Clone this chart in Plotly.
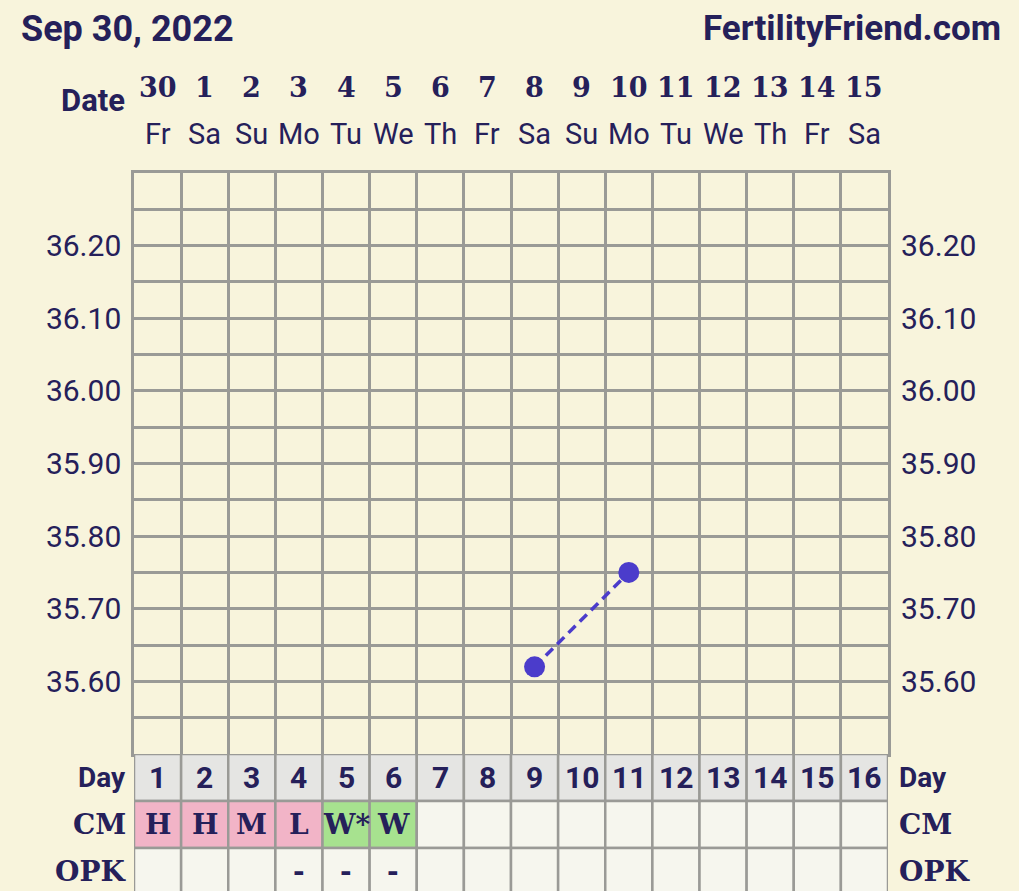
import plotly.graph_objects as go

# ---------------- data ----------------
date_nums = ["30", "1", "2", "3", "4", "5", "6", "7", "8", "9", "10", "11", "12", "13", "14", "15"]
weekdays = ["Fr", "Sa", "Su", "Mo", "Tu", "We", "Th", "Fr", "Sa", "Su", "Mo", "Tu", "We", "Th", "Fr", "Sa"]
cycle_days = list(range(1, 17))
temp_days = [9, 11]
temps = [35.62, 35.75]
temp_ticks = [35.60, 35.70, 35.80, 35.90, 36.00, 36.10, 36.20]
cm_values = ["H", "H", "M", "L", "W*", "W", "", "", "", "", "", "", "", "", "", ""]
opk_values = ["", "", "", "-", "-", "-", "", "", "", "", "", "", "", "", "", ""]
row_labels = ["Day", "CM", "OPK"]

# ---------------- style ----------------
BG = "#f8f4dc"
INK = "#25205a"
GRID = "#9a9a96"
PT = "#4b3ccb"
DAYBG = "#e5e5e3"
EMPTY = "#f6f6ee"
PINK = "#f2b4c7"
GREEN = "#a7e28f"
SANS = "Roboto"
SLAB = "DejaVu Serif"

W, H = 1019, 891
ML, MR, MT, MB = 134, 131, 173, 0
PW, PH = W - ML - MR, H - MT - MB
TABLE_PX = 137


def px_x(p):
    return (p - ML) / PW


def px_y(p):
    return (H - MB - p) / PH


fig = go.Figure()

fig.add_trace(go.Scatter(
    x=temp_days, y=temps, mode="lines+markers",
    line=dict(color=PT, width=3.5, dash="10px,6px"),
    marker=dict(color=PT, size=21),
    xaxis="x", yaxis="y", showlegend=False, hoverinfo="skip"))

# right-side axis duplicate
fig.add_trace(go.Scatter(x=temp_days, y=temps, mode="markers", marker=dict(opacity=0),
                         xaxis="x", yaxis="y3", showlegend=False, hoverinfo="skip"))

shapes = []
annotations = []

# table cells
for i, d in enumerate(cycle_days):
    x = d
    shapes.append(dict(type="rect", xref="x", yref="y2", x0=x - 0.5, x1=x + 0.5, y0=-0.5, y1=0.5,
                       fillcolor=DAYBG, line=dict(color=GRID, width=2.5), layer="above"))
    annotations.append(dict(x=x, y=0, xref="x", yref="y2", text=str(d), showarrow=False,
                            yanchor="middle",
                            font=dict(family=SANS, size=30, color=INK, weight="bold")))
    cm = cm_values[i]
    fill = EMPTY
    if cm in ("H", "M", "L"):
        fill = PINK
    elif cm.startswith("W"):
        fill = GREEN
    shapes.append(dict(type="rect", xref="x", yref="y2", x0=x - 0.5, x1=x + 0.5, y0=0.5, y1=1.5,
                       fillcolor=fill, line=dict(color=GRID, width=2.5), layer="above"))
    if cm:
        annotations.append(dict(x=x, y=1, xref="x", yref="y2", text=cm, showarrow=False,
                                yanchor="middle",
                                font=dict(family=SLAB, size=28, color=INK, weight="bold")))
    shapes.append(dict(type="rect", xref="x", yref="y2", x0=x - 0.5, x1=x + 0.5, y0=1.5, y1=2.5,
                       fillcolor=EMPTY, line=dict(color=GRID, width=2.5), layer="above"))
    if opk_values[i]:
        annotations.append(dict(x=x, y=2, xref="x", yref="y2", text=opk_values[i], showarrow=False,
                                yanchor="middle",
                                font=dict(family=SLAB, size=28, color=INK, weight="bold")))

# row labels left/right
for r, lab in enumerate(row_labels):
    fam = SANS if lab == "Day" else SLAB
    annotations.append(dict(x=px_x(128), y=r, xref="paper", yref="y2", text=lab, showarrow=False,
                            xanchor="right", yanchor="middle",
                            font=dict(family=fam, size=28, color=INK, weight="bold")))
    annotations.append(dict(x=px_x(897), y=r, xref="paper", yref="y2", text=lab, showarrow=False,
                            xanchor="left", yanchor="middle",
                            font=dict(family=fam, size=28, color=INK, weight="bold")))

# top date labels
for i, d in enumerate(cycle_days):
    annotations.append(dict(x=d, y=px_y(87), xref="x", yref="paper", text=date_nums[i], showarrow=False,
                            yanchor="middle",
                            font=dict(family=SLAB, size=27, color=INK, weight="bold")))
    annotations.append(dict(x=d, y=px_y(134), xref="x", yref="paper", text=weekdays[i], showarrow=False,
                            yanchor="middle",
                            font=dict(family=SANS, size=29, color=INK)))

annotations.append(dict(x=px_x(127), y=px_y(101), xref="paper", yref="paper", text="Date", showarrow=False,
                        xanchor="right", yanchor="middle",
                        font=dict(family=SANS, size=31, color=INK, weight="bold")))
annotations.append(dict(x=px_x(19), y=px_y(29), xref="paper", yref="paper", text="Sep 30, 2022",
                        showarrow=False, xanchor="left", yanchor="middle",
                        font=dict(family=SANS, size=36, color=INK, weight="bold")))
annotations.append(dict(x=px_x(1003), y=px_y(29), xref="paper", yref="paper", text="FertilityFriend.com",
                        showarrow=False, xanchor="right", yanchor="middle",
                        font=dict(family=SANS, size=35, color=INK, weight="bold")))

tdom = TABLE_PX / PH
row_h = 47

fig.update_layout(
    width=W, height=H,
    margin=dict(l=ML, r=MR, t=MT, b=MB, pad=0),
    paper_bgcolor=BG, plot_bgcolor=BG,
    showlegend=False,
    xaxis=dict(range=[0.5, 16.5], tick0=0.5, dtick=1, showticklabels=False, showgrid=True,
               gridcolor=GRID, gridwidth=2.5, zeroline=False, showline=True, linecolor=GRID,
               linewidth=2.5, mirror=True, anchor="y", fixedrange=True),
    yaxis=dict(domain=[tdom, 1], range=[35.5, 36.3], tickvals=temp_ticks,
               ticktext=[f"{v:.2f}" for v in temp_ticks], showgrid=True, gridcolor=GRID, gridwidth=2.5,
               minor=dict(dtick=0.05, tick0=35.5, showgrid=True, gridcolor=GRID, gridwidth=2.5),
               zeroline=False, showline=True, linecolor=GRID, linewidth=2.5, mirror=True,
               ticks="outside", ticklen=4, tickcolor="rgba(0,0,0,0)",
               tickfont=dict(family=SANS, size=30, color=INK), anchor="x"),
    yaxis3=dict(overlaying="y", side="right", range=[35.5, 36.3], tickvals=temp_ticks,
                ticktext=[f"{v:.2f}" for v in temp_ticks], showgrid=False, zeroline=False,
                ticks="outside", ticklen=6, tickcolor="rgba(0,0,0,0)",
                tickfont=dict(family=SANS, size=30, color=INK), anchor="x"),
    yaxis2=dict(domain=[0, tdom], range=[-0.5 + TABLE_PX / row_h, -0.5], visible=False, anchor="x"),
    shapes=shapes,
    annotations=annotations,
)

fig.write_html("out.html", config={"displayModeBar": False},
               post_script="document.body.style.margin='0';document.body.style.overflow='hidden';")
